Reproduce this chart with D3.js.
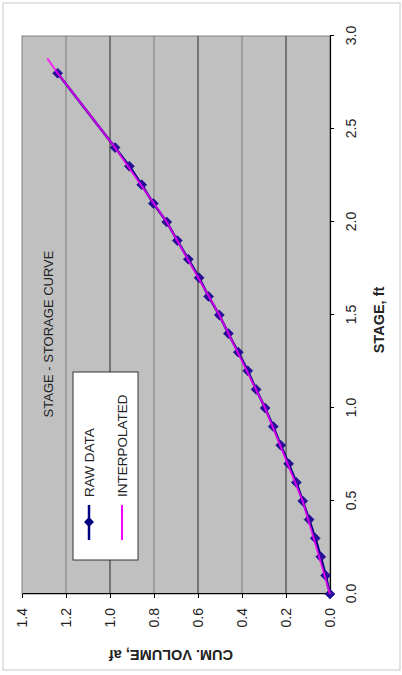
<!DOCTYPE html>
<html>
<head>
<meta charset="utf-8">
<script src="https://cdn.jsdelivr.net/npm/d3@7"></script>
<style>
  html, body { margin: 0; padding: 0; background: #fff; }
  svg { display: block; font-family: "Liberation Sans", Arial, sans-serif; }
</style>
</head>
<body>
<svg id="chart" width="402" height="675"></svg>
<script>
// ---- data ----
const rawStage = [0, 0.1, 0.2, 0.3, 0.4, 0.5, 0.6, 0.7, 0.8, 0.9, 1.0, 1.1, 1.2, 1.3, 1.4, 1.5, 1.6, 1.7, 1.8, 1.9, 2.0, 2.1, 2.2, 2.3, 2.4, 2.8];
const rawVolume = [0, 0.020, 0.042, 0.067, 0.095, 0.124, 0.153, 0.188, 0.224, 0.258, 0.295, 0.336, 0.374, 0.417, 0.462, 0.503, 0.552, 0.595, 0.644, 0.694, 0.742, 0.803, 0.856, 0.912, 0.977, 1.238];
const interpStage = [0, 0.5, 1.0, 1.5, 2.0, 2.4, 2.6, 2.8, 2.88];
const interpVolume = [0, 0.124, 0.295, 0.503, 0.742, 0.977, 1.107, 1.238, 1.285];
const stageTicks = [0, 0.5, 1.0, 1.5, 2.0, 2.5, 3.0];
const volumeTicks = [0, 0.2, 0.4, 0.6, 0.8, 1.0, 1.2, 1.4];
const titleText = "STAGE - STORAGE CURVE";
const xTitle = "STAGE, ft";
const yTitle = "CUM. VOLUME, af";
const legendLabels = ["RAW DATA", "INTERPOLATED"];

// ---- drawing (chart drawn in landscape then rotated -90deg) ----
const W = 675, H = 402;
const svg = d3.select("#chart");
const g = svg.append("g").attr("transform", `translate(0,${W}) rotate(-90)`);

// outer frame
g.append("rect").attr("x", 5).attr("y", 3).attr("width", 667).attr("height", 397)
  .attr("fill", "#fff").attr("stroke", "#c8c8c8").attr("stroke-width", 1);

const x = d3.scaleLinear().domain([0, 3]).range([81, 639]);
const y = d3.scaleLinear().domain([0, 1.4]).range([330, 22]);

// plot area
g.append("rect").attr("x", x(0)).attr("y", y(1.4))
  .attr("width", x(3) - x(0)).attr("height", y(0) - y(1.4))
  .attr("fill", "#c0c0c0").attr("stroke", "#808080").attr("stroke-width", 1);

// gridlines
g.append("g").selectAll("line").data(volumeTicks.filter(v => v > 0 && v < 1.4))
  .join("line")
  .attr("x1", x(0)).attr("x2", x(3))
  .attr("y1", d => y(d)).attr("y2", d => y(d))
  .attr("stroke", (d, i) => i % 2 === 0 ? "#5a5a5a" : "#7a7a7a")
  .attr("stroke-width", (d, i) => i % 2 === 0 ? 1.5 : 1);

// axes
const fmt = d3.format(".1f");
const xAxis = g.append("g").attr("transform", `translate(0,${y(0)})`)
  .call(d3.axisBottom(x).tickValues(stageTicks).tickFormat(fmt).tickSize(4).tickSizeOuter(0));
xAxis.select(".domain").attr("stroke", "#000").attr("stroke-width", 1.2);
xAxis.selectAll(".tick line").attr("stroke", "#000");
xAxis.selectAll(".tick text").attr("y", 21).attr("dy", "0.35em")
  .attr("font-size", 14).attr("fill", "#222").attr("font-family", "Liberation Sans, Arial, sans-serif");

const yAxis = g.append("g").attr("transform", `translate(${x(0)},0)`)
  .call(d3.axisLeft(y).tickValues(volumeTicks).tickFormat(fmt).tickSize(4).tickSizeOuter(0));
yAxis.select(".domain").attr("stroke", "#000").attr("stroke-width", 1.2);
yAxis.selectAll(".tick line").attr("stroke", "#000");
yAxis.selectAll(".tick text").attr("x", -14).attr("dy", "0.35em")
  .attr("font-size", 14).attr("fill", "#222").attr("font-family", "Liberation Sans, Arial, sans-serif");

// axis titles
g.append("text").attr("x", 355).attr("y", 379).attr("text-anchor", "middle")
  .attr("dominant-baseline", "central").attr("font-size", 14.5).attr("font-weight", "bold")
  .attr("fill", "#222").text(xTitle);
g.append("text").attr("transform", `translate(20,171) rotate(-90)`)
  .attr("text-anchor", "middle").attr("dominant-baseline", "central")
  .attr("font-size", 14.5).attr("font-weight", "bold").attr("fill", "#222").text(yTitle);

// chart title
g.append("text").attr("x", 341).attr("y", 48).attr("text-anchor", "middle")
  .attr("dominant-baseline", "central").attr("font-size", 13).attr("fill", "#222").text(titleText);

// series
const rawData = rawStage.map((s, i) => [s, rawVolume[i]]);
const interpData = interpStage.map((s, i) => [s, interpVolume[i]]);
const line = d3.line().x(d => x(d[0])).y(d => y(d[1]));

g.append("path").datum(rawData).attr("d", line)
  .attr("fill", "none").attr("stroke", "#000080").attr("stroke-width", 2.5);
const diamond = d3.symbol().type(d3.symbolSquare).size(50);
g.append("g").selectAll("path").data(rawData).join("path")
  .attr("transform", d => `translate(${x(d[0])},${y(d[1])}) rotate(45)`)
  .attr("d", diamond).attr("fill", "#2a0c9a").attr("stroke", "#000080").attr("stroke-width", 0.5);
g.append("path").datum(interpData).attr("d", line)
  .attr("fill", "none").attr("stroke", "#ff00ff").attr("stroke-width", 2).attr("stroke-opacity", 0.8);

// legend
const lg = g.append("g");
lg.append("rect").attr("x", 115).attr("y", 73).attr("width", 188).attr("height", 65)
  .attr("fill", "#fff").attr("stroke", "#333").attr("stroke-width", 1);
// raw data entry
lg.append("line").attr("x1", 135).attr("x2", 170).attr("y1", 89).attr("y2", 89)
  .attr("stroke", "#000080").attr("stroke-width", 2.5);
lg.append("path").attr("transform", "translate(153,89) rotate(45)").attr("d", diamond)
  .attr("fill", "#000080");
lg.append("text").attr("x", 178).attr("y", 89).attr("dominant-baseline", "central")
  .attr("font-size", 13.5).attr("fill", "#222").text(legendLabels[0]);
// interpolated entry
lg.append("line").attr("x1", 135).attr("x2", 170).attr("y1", 122).attr("y2", 122)
  .attr("stroke", "#ff00ff").attr("stroke-width", 2);
lg.append("text").attr("x", 178).attr("y", 122).attr("dominant-baseline", "central")
  .attr("font-size", 13.5).attr("fill", "#222").text(legendLabels[1]);
</script>
</body>
</html>
